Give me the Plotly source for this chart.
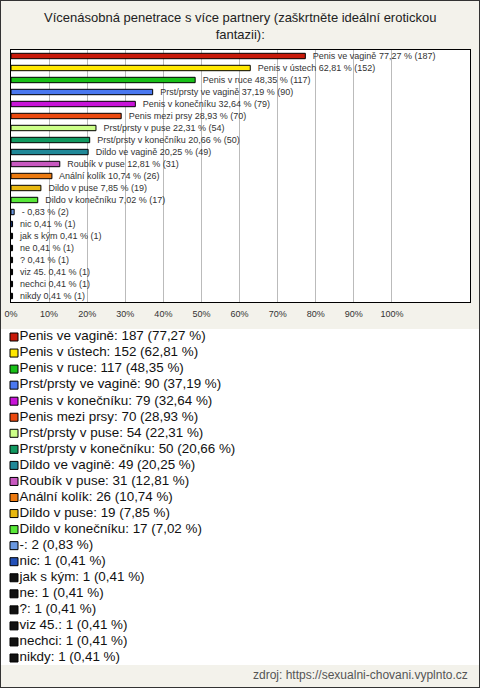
import plotly.graph_objects as go

categories = ["Penis ve vagině", "Penis v ústech", "Penis v ruce", "Prst/prsty ve vagině",
              "Penis v konečníku", "Penis mezi prsy", "Prst/prsty v puse", "Prst/prsty v konečníku",
              "Dildo ve vagině", "Roubík v puse", "Anální kolík", "Dildo v puse",
              "Dildo v konečníku", "-", "nic", "jak s kým", "ne", "?", "viz 45.", "nechci", "nikdy"]
counts = [187, 152, 117, 90, 79, 70, 54, 50, 49, 31, 26, 19, 17, 2, 1, 1, 1, 1, 1, 1, 1]
percents = [77.27, 62.81, 48.35, 37.19, 32.64, 28.93, 22.31, 20.66, 20.25, 12.81, 10.74,
            7.85, 7.02, 0.83, 0.41, 0.41, 0.41, 0.41, 0.41, 0.41, 0.41]
colors = ["#c81a0a", "#ffe800", "#18c018", "#4a78f0", "#c814d8", "#ec4a10", "#ccff88",
          "#109860", "#208898", "#c858c0", "#ec7a10", "#e8b810", "#58e838", "#6a98e0",
          "#2250b8", "#111111", "#111111", "#111111", "#111111", "#111111", "#111111"]
tick_vals = [0, 10, 20, 30, 40, 50, 60, 70, 80, 90, 100]
tick_text = [f"{v}%" for v in tick_vals]

W, H = 480, 688
FONT = "Liberation Sans, Arial, sans-serif"


def py(p):
    return 1 - p / H


def fmt(p):
    return f"{p:.2f}".replace(".", ",")


bar_text = [f"   {c} {fmt(p)} % ({n})" for c, p, n in zip(categories, percents, counts)]
legend_text = [f"{c}: {n} ({fmt(p)} %)" for c, p, n in zip(categories, percents, counts)]
idx = list(range(len(categories)))

fig = go.Figure()
fig.add_trace(go.Bar(
    x=percents, y=categories, orientation="h", width=0.45,
    marker=dict(color=colors, line=dict(color="#000000", width=1)),
    text=bar_text, textposition="outside", constraintext="none", cliponaxis=False,
    textfont=dict(family=FONT, size=9, color="#333333"),
    hoverinfo="skip", showlegend=False, xaxis="x", yaxis="y"))

fig.add_trace(go.Scatter(
    x=[14] * len(idx), y=idx, mode="markers",
    marker=dict(symbol="square", size=8, color=colors, line=dict(color="#000000", width=1)),
    hoverinfo="skip", showlegend=False, xaxis="x2", yaxis="y2"))
fig.add_trace(go.Scatter(
    x=[19.5] * len(idx), y=idx, mode="text", text=legend_text, textposition="middle right",
    textfont=dict(family=FONT, size=13.4, color="#111111"),
    hoverinfo="skip", showlegend=False, xaxis="x2", yaxis="y2"))

fig.update_layout(
    width=W, height=H, margin=dict(l=0, r=0, t=0, b=0, autoexpand=False),
    paper_bgcolor="#f3f2eb", plot_bgcolor="#ffffff",
    font=dict(family=FONT, color="#222222"),
    xaxis=dict(domain=[11 / W, 470 / W], range=[0, 120.5], tickvals=tick_vals, ticktext=tick_text,
               showgrid=True, gridcolor="#bbbbbb", gridwidth=1, zeroline=False, automargin=False,
               showline=True, linecolor="#000000", linewidth=1, mirror=True,
               ticks="", ticklabelstandoff=3,
               tickfont=dict(family=FONT, size=9, color="#333333"), anchor="y"),
    yaxis=dict(domain=[py(302), py(50)], categoryorder="array", categoryarray=categories,
               range=[len(categories) - 0.5, -0.5], showticklabels=False, ticks="",
               showgrid=False, zeroline=False, automargin=False,
               showline=True, linecolor="#000000", linewidth=1, mirror=True, anchor="x"),
    xaxis2=dict(domain=[0, 1], range=[0, W], visible=False, anchor="y2", automargin=False),
    yaxis2=dict(domain=[py(665), py(329)], range=[(665 - 337) / 16.05, (329 - 337) / 16.05],
                visible=False, anchor="x2", automargin=False),
    shapes=[dict(type="rect", xref="paper", yref="paper", x0=0, x1=1, y0=0, y1=1,
                 line=dict(color="#333333", width=2), fillcolor="rgba(0,0,0,0)")],
    annotations=[
        dict(text="Vícenásobná penetrace s více partnery (zaškrtněte ideální erotickou<br>fantazii):",
             xref="paper", yref="paper", x=0.5, y=py(26), xanchor="center", yanchor="middle",
             showarrow=False, font=dict(family=FONT, size=13, color="#222222")),
        dict(text="zdroj: https://sexualni-chovani.vyplnto.cz", xref="paper", yref="paper",
             x=1 - 10 / W, y=py(675), xanchor="right", yanchor="middle", showarrow=False,
             font=dict(family=FONT, size=12, color="#555555"))],
)

fig.write_html("out.html", config={"displayModeBar": False},
               post_script="document.body.style.margin='0';document.body.style.overflow='hidden';")
